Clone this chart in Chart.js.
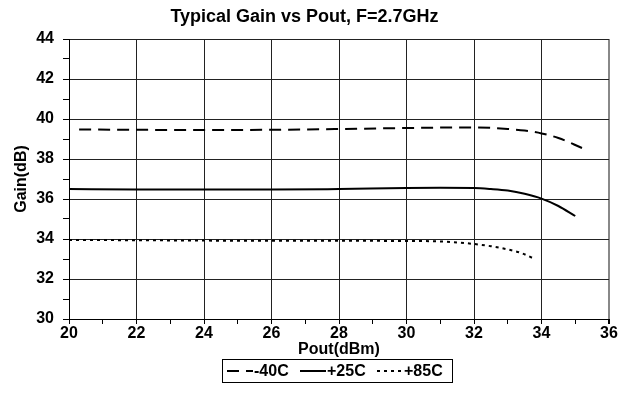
<!DOCTYPE html>
<html>
<head>
<meta charset="utf-8">
<script src="https://cdn.jsdelivr.net/npm/chart.js@4"></script>
<style>
  html, body { margin: 0; padding: 0; background: #fff; }
  #wrap { position: relative; width: 628px; height: 410px; }
</style>
</head>
<body>
<div id="wrap"><canvas id="gain-chart" width="628" height="410"></canvas></div>
<script>
// Data
const pout40 = [20.3, 22, 24, 26, 28, 30, 31, 32, 32.5, 33, 33.5, 34, 34.5, 35.2];
const gain40 = [39.48, 39.46, 39.45, 39.46, 39.5, 39.55, 39.57, 39.58, 39.56, 39.5, 39.42, 39.28, 39.05, 38.55];

const pout25 = [20, 22, 24, 26, 28, 30, 31, 32, 32.5, 33, 33.5, 34, 34.5, 35];
const gain25 = [36.5, 36.48, 36.47, 36.47, 36.5, 36.55, 36.56, 36.55, 36.5, 36.42, 36.26, 36.02, 35.65, 35.15];

const pout85 = [20, 22, 24, 26, 28, 30, 31, 31.5, 32, 32.5, 33, 33.4, 33.8];
const gain85 = [33.95, 33.94, 33.92, 33.91, 33.91, 33.9, 33.88, 33.83, 33.75, 33.64, 33.48, 33.3, 33.0];

const seriesLabels = ['-40C', '+25C', '+85C'];
const xTicks = [20, 22, 24, 26, 28, 30, 32, 34, 36];
const yTicks = [30, 32, 34, 36, 38, 40, 42, 44];

const toPoints = (xs, ys) => xs.map((x, i) => ({ x, y: ys[i] }));

const FONT = 'Arial, "Liberation Sans", sans-serif';

// Boxed legend under the axis title, like the Excel original
const boxLegend = {
  id: 'boxLegend',
  afterDraw(chart) {
    const { ctx } = chart;
    const left = 222;
    const top = 359;
    const width = 230;
    const height = 23;
    ctx.save();
    ctx.strokeStyle = '#000';
    ctx.lineWidth = 1;
    ctx.strokeRect(left + 0.5, top + 0.5, width, height);
    ctx.font = 'bold 16px ' + FONT;
    ctx.textBaseline = 'middle';
    ctx.fillStyle = '#000';
    const cy = top + height / 2 + 0.5;
    const sampleX = [227, 300, 377];
    chart.data.datasets.forEach((ds, i) => {
      const x0 = sampleX[i];
      ctx.beginPath();
      ctx.setLineDash(ds.borderDash || []);
      ctx.lineWidth = 2;
      ctx.moveTo(x0, cy);
      ctx.lineTo(x0 + 26, cy);
      ctx.stroke();
      ctx.setLineDash([]);
      ctx.fillText(ds.label, x0 + 27, cy + 1);
    });
    ctx.restore();
  },
};

const ctx = document.getElementById('gain-chart');
// eslint-disable-next-line no-unused-vars
const chart = new Chart(ctx, {
  type: 'line',
  data: {
    datasets: [
      {
        label: seriesLabels[0],
        data: toPoints(pout40, gain40),
        borderColor: '#000',
        borderWidth: 2,
        borderDash: [12, 7],
      },
      {
        label: seriesLabels[1],
        data: toPoints(pout25, gain25),
        borderColor: '#000',
        borderWidth: 2,
      },
      {
        label: seriesLabels[2],
        data: toPoints(pout85, gain85),
        borderColor: '#000',
        borderWidth: 2,
        borderDash: [3, 4],
      },
    ],
  },
  options: {
    responsive: false,
    animation: false,
    layout: {
      padding: { top: 0, bottom: 0, left: 0, right: 19 },
    },
    elements: {
      point: { radius: 0 },
      line: { cubicInterpolationMode: 'monotone', fill: false },
    },
    scales: {
      x: {
        type: 'linear',
        min: 20,
        max: 36,
        afterFit: (scale) => { scale.height = 91; },
        ticks: {
          stepSize: 1,
          autoSkip: false,
          maxRotation: 0,
          padding: 0,
          color: '#000',
          font: { family: FONT, size: 16, weight: 'bold' },
          callback: (v) => (xTicks.includes(v) ? String(v) : ''),
        },
        grid: {
          color: (c) => {
            const v = c.tick && c.tick.value;
            if (v === 36) return '#888';
            return xTicks.includes(v) ? '#222' : 'rgba(0,0,0,0)';
          },
          lineWidth: (c) => (c.tick && c.tick.value === 36 ? 2 : 1),
          tickColor: '#000',
          tickLength: 5,
        },
        border: { color: '#000', width: 1 },
        title: {
          display: true,
          text: 'Pout(dBm)',
          color: '#000',
          font: { family: FONT, size: 16, weight: 'bold' },
          padding: { top: 0, bottom: 51 },
        },
      },
      y: {
        min: 30,
        max: 44,
        afterFit: (scale) => { scale.width = 69; },
        ticks: {
          stepSize: 1,
          autoSkip: false,
          padding: 9,
          color: '#000',
          font: { family: FONT, size: 16, weight: 'bold' },
          callback: (v) => (yTicks.includes(v) ? String(v) : ''),
        },
        grid: {
          color: (c) => {
            const v = c.tick && c.tick.value;
            return yTicks.includes(v) ? '#222' : 'rgba(0,0,0,0)';
          },
          tickColor: '#000',
          tickLength: 6,
        },
        border: { color: '#000', width: 1 },
        title: {
          display: true,
          text: 'Gain(dB)',
          color: '#000',
          font: { family: FONT, size: 16, weight: 'bold' },
          padding: { top: 12, bottom: 0 },
        },
      },
    },
    plugins: {
      legend: { display: false },
      tooltip: { enabled: false },
      title: {
        display: true,
        text: 'Typical Gain vs Pout, F=2.7GHz',
        color: '#000',
        font: { family: FONT, size: 18, weight: 'bold' },
        padding: { top: 6, bottom: 11.4 },
      },
    },
  },
  plugins: [boxLegend],
});
</script>
</body>
</html>
